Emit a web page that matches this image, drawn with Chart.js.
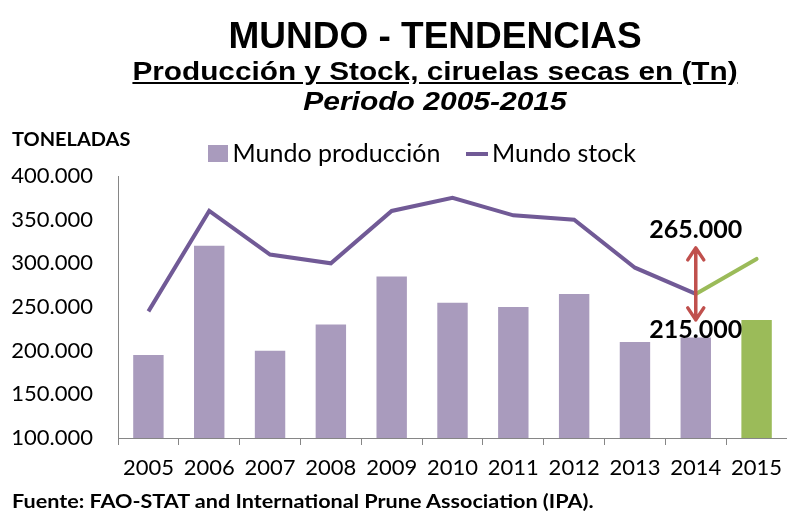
<!DOCTYPE html>
<html>
<head>
<meta charset="utf-8">
<script src="https://cdn.jsdelivr.net/npm/chart.js@4/dist/chart.umd.min.js"></script>
<style>
  html, body { margin: 0; padding: 0; background: #fff; }
  #wrap { position: relative; width: 787px; height: 513px; overflow: hidden; }
  #chart { position: absolute; left: 0; top: 0; }
  .txt { position: absolute; color: #000; white-space: nowrap; line-height: 1; }
  #t1 { left: 0; width: 870px; text-align: center; top: 15px; font: bold 37px "Liberation Sans", Arial, sans-serif; }
  #t2 { left: 0; width: 870px; text-align: center; top: 57px; font: bold 25px "Liberation Sans", Arial, sans-serif; text-decoration: underline; transform: scaleX(1.19); }
  #t3 { left: 0; width: 870px; text-align: center; top: 87px; font: italic bold 25px "Liberation Sans", Arial, sans-serif; transform: scaleX(1.2); }
  #yt { left: 12px; top: 128px; font: bold 18px Lato, sans-serif; transform: scaleX(1.11); transform-origin: 0 0; }
  #src { left: 12px; top: 490px; font: bold 18px Lato, sans-serif; transform: scaleX(1.2); transform-origin: 0 0; }
</style>
</head>
<body>
<div id="wrap">
  <canvas id="chart" width="787" height="513"></canvas>
  <div class="txt" id="t1">MUNDO - TENDENCIAS</div>
  <div class="txt" id="t2">Producción y Stock, ciruelas secas en (Tn)</div>
  <div class="txt" id="t3">Periodo 2005-2015</div>
  <div class="txt" id="yt">TONELADAS</div>
  <div class="txt" id="src">Fuente: FAO-STAT and International Prune Association (IPA).</div>
</div>
<script>
// Daten
const years = ["2005", "2006", "2007", "2008", "2009", "2010", "2011", "2012", "2013", "2014", "2015"];
const produccion = [195000, 320000, 200000, 230000, 285000, 255000, 250000, 265000, 210000, 215000, 235000];
const stock = [245000, 360000, 310000, 300000, 360000, 375000, 355000, 350000, 295000, 265000, null];
const stockProyeccion = [null, null, null, null, null, null, null, null, null, 265000, 305000];
const yTicks = [100000, 150000, 200000, 250000, 300000, 350000, 400000];

const PURPLE_BAR = "#A99BBD";
const PURPLE_LINE = "#715A96";
const GREEN = "#9BBB59";
const RED = "#C0504D";

const fmt = v => String(v).replace(/\B(?=(\d{3})+(?!\d))/g, ".");

// kleine Legenden-Symbole als Canvas
function legendIcon(w, h, draw) {
  const c = document.createElement("canvas");
  c.width = w; c.height = h;
  draw(c.getContext("2d"), w, h);
  return c;
}
const iconRect = legendIcon(20, 17, (g, w, h) => { g.fillStyle = PURPLE_BAR; g.fillRect(0, 0, w, h); });
const iconLine = legendIcon(22, 17, (g, w, h) => { g.fillStyle = PURPLE_LINE; g.fillRect(0, 7, w, 4); });

// Legende etwas nach rechts schieben (Mitte wie im Original)
const LEGEND_SHIFT = 27;
const legendShift = {
  id: "legendShift",
  afterLayout(chart) {
    if (!chart.legend) return;
    chart.legend.left += LEGEND_SHIFT;
    chart.legend.right += LEGEND_SHIFT;
  }
};

// Pfeil + Beschriftung bei 2014
const idx2014 = years.indexOf("2014");
const arrowPlugin = {
  id: "arrowNote",
  afterDatasetsDraw(chart) {
    const { ctx, scales: { x, y } } = chart;
    const px = x.getPixelForValue(idx2014);
    const py = y.getPixelForValue(stock[idx2014]);
    ctx.save();
    ctx.strokeStyle = RED;
    ctx.lineWidth = 3.5;
    ctx.lineCap = "round";
    ctx.lineJoin = "round";
    const up = py - 46, down = py + 26;
    ctx.beginPath();
    ctx.moveTo(px, py); ctx.lineTo(px, up);
    ctx.moveTo(px - 8, up + 12); ctx.lineTo(px, up); ctx.lineTo(px + 8, up + 12);
    ctx.moveTo(px, py); ctx.lineTo(px, down);
    ctx.moveTo(px - 8, down - 12); ctx.lineTo(px, down); ctx.lineTo(px + 8, down - 12);
    ctx.stroke();

    ctx.fillStyle = "#000";
    ctx.font = "bold 25px Lato, sans-serif";
    ctx.textAlign = "center";
    ctx.textBaseline = "middle";
    ctx.fillText(fmt(stock[idx2014]), px, py - 64);
    ctx.fillText(fmt(produccion[idx2014]), px, py + 36);
    ctx.restore();
  }
};

new Chart(document.getElementById("chart"), {
  data: {
    labels: years,
    datasets: [
      {
        type: "bar",
        label: "Mundo producción",
        data: produccion,
        backgroundColor: produccion.map((_, i) => i === years.length - 1 ? GREEN : PURPLE_BAR),
        categoryPercentage: 1,
        barPercentage: 0.5,
        order: 2
      },
      {
        type: "line",
        label: "Mundo stock",
        data: stock,
        borderColor: PURPLE_LINE,
        borderWidth: 4,
        pointRadius: 0,
        tension: 0,
        order: 1
      },
      {
        type: "line",
        label: "proyeccion",
        data: stockProyeccion,
        borderColor: GREEN,
        borderWidth: 4,
        borderCapStyle: "round",
        pointRadius: 0,
        tension: 0,
        order: 0
      }
    ]
  },
  options: {
    responsive: false,
    animation: false,
    layout: { autoPadding: false, padding: { top: 107, left: 10, right: 0, bottom: 0 } },
    scales: {
      x: {
        type: "category",
        offset: true,
        grid: { display: true, drawOnChartArea: false, drawTicks: true, tickLength: 7, color: "#868686", offset: true },
        border: { display: true, color: "#868686", width: 1 },
        ticks: { color: "#000", font: { family: "Lato", size: 22 }, padding: 10, maxRotation: 0, autoSkip: false },
        afterFit: s => { s.height = 75; s.paddingLeft = 0; s.paddingRight = 0; }
      },
      y: {
        min: 100000,
        max: 400000,
        afterBuildTicks: s => { s.ticks = yTicks.map(v => ({ value: v })); },
        grid: { display: false, drawTicks: false },
        border: { display: true, color: "#868686", width: 1 },
        ticks: { color: "#000", font: { family: "Lato", size: 22 }, padding: 25, callback: v => fmt(v) },
        afterFit: s => { s.width = 108; }
      }
    },
    plugins: {
      legend: {
        position: "top",
        align: "center",
        labels: {
          color: "#000",
          font: { family: "Lato", size: 25 },
          usePointStyle: true,
          pointStyleWidth: 5,
          padding: 34,
          sort: (a, b) => a.datasetIndex - b.datasetIndex,
          filter: item => item.datasetIndex < 2,
          generateLabels: chart => {
            const items = Chart.defaults.plugins.legend.labels.generateLabels(chart);
            items.forEach(it => { it.pointStyle = it.datasetIndex === 0 ? iconRect : iconLine; });
            return items;
          }
        }
      },
      tooltip: { enabled: false }
    }
  },
  plugins: [arrowPlugin, legendShift]
});
</script>
</body>
</html>
